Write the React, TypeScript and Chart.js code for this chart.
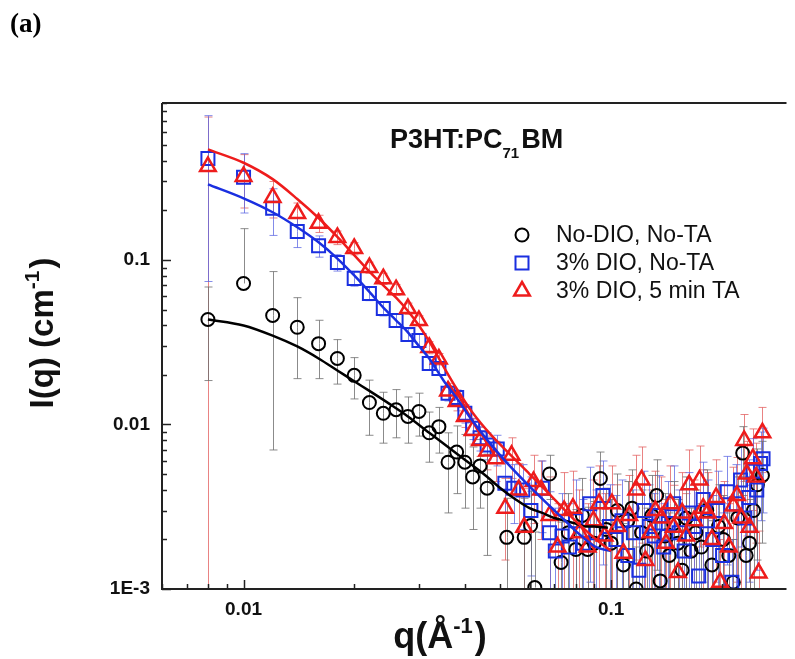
import React, { useEffect, useRef } from 'react';
import { Chart, registerables } from 'chart.js';

Chart.register(...registerables);

// ---------- axis ranges & labels ----------
const xRange = [0.006, 0.3];
const yRange = [0.001, 0.9];
const xTickLabels = [
  { v: 0.01, t: '0.01' },
  { v: 0.1, t: '0.1' },
];
const yTickLabels = [
  { v: 0.001, t: '1E-3' },
  { v: 0.01, t: '0.01' },
  { v: 0.1, t: '0.1' },
];
const seriesNames = ['No-DIO, No-TA', '3% DIO, No-TA', '3% DIO, 5 min TA'];

// ---------- No-DIO, No-TA (black circles) ----------
const qBlack = [0.008, 0.010, 0.012, 0.014, 0.016, 0.018, 0.020, 0.022, 0.024, 0.026, 0.028, 0.030, 0.032, 0.034, 0.036, 0.038, 0.040, 0.042, 0.044, 0.046, 0.052, 0.058, 0.0604, 0.062, 0.068,
  0.0731, 0.0765, 0.0802, 0.0835, 0.0863, 0.0900, 0.0935, 0.0970, 0.1000, 0.1040, 0.1080, 0.1110, 0.1140, 0.1170, 0.1210, 0.1250, 0.1290, 0.1330, 0.1360, 0.1400, 0.1440, 0.1480, 0.1520, 0.1560, 0.1600, 0.1650, 0.1700, 0.1760, 0.1820, 0.1880, 0.1960, 0.2020, 0.2090, 0.2150, 0.2210, 0.2280, 0.2330, 0.2380, 0.2440, 0.2500, 0.2580];
const iBlack = [0.0435, 0.072, 0.046, 0.039, 0.031, 0.0252, 0.0199, 0.0136, 0.0117, 0.0123, 0.0112, 0.0120, 0.0089, 0.0097, 0.0059, 0.0068, 0.0059, 0.0048, 0.0056, 0.0041, 0.00206, 0.00206, 0.00243, 0.00102, 0.0050,
  0.00145, 0.0022, 0.00174, 0.0028, 0.00174, 0.0019, 0.0047, 0.0023, 0.0019, 0.0030, 0.0014, 0.0026, 0.0031, 0.0010, 0.0022, 0.0017, 0.0028, 0.0037, 0.00112, 0.0021, 0.0016, 0.0025, 0.0019, 0.0013, 0.0027, 0.0017, 0.0022, 0.0018, 0.0030, 0.0014, 0.0024, 0.0020, 0.0016, 0.0011, 0.0027, 0.0067, 0.0016, 0.0019, 0.0030, 0.0043, 0.0049];
const eBlack = [0.025, 0.083, 0.039, 0.020, 0.012, 0.0076, 0.0056, 0.005, 0.004, 0.004, 0.0035, 0.0035, 0.003, 0.003, 0.003, 0.003, 0.0028, 0.0025, 0.0025, 0.0025, 0.0015, 0.0015, 0.0015, 0.0012, 0.0015,
  0.0011, 0.0016, 0.0013, 0.0019, 0.0014, 0.0015, 0.0021, 0.0018, 0.0016, 0.0020, 0.0011, 0.0019, 0.0022, 0.0008, 0.0018, 0.0014, 0.0021, 0.0024, 0.0009, 0.0017, 0.0013, 0.0020, 0.0016, 0.0011, 0.0021, 0.0014, 0.0018, 0.0015, 0.0023, 0.0012, 0.0019, 0.0017, 0.0013, 0.0009, 0.0021, 0.0030, 0.0013, 0.0016, 0.0022, 0.0028, 0.0030];

// ---------- 3% DIO, No-TA (blue squares) ----------
const qBlue = [0.008, 0.010, 0.012, 0.014, 0.016, 0.018, 0.020, 0.022, 0.024, 0.026, 0.028, 0.030, 0.032, 0.034, 0.036, 0.038, 0.040, 0.042, 0.044, 0.046, 0.049, 0.0514, 0.0543, 0.0575, 0.0605, 0.0650, 0.0680, 0.0705, 0.0735, 0.0770, 0.0800, 0.0840, 0.0875, 0.0910, 0.0950, 0.0990,
  0.1030, 0.1070, 0.1110, 0.1150, 0.1190, 0.1230, 0.1270, 0.1310, 0.1350, 0.1390, 0.1430, 0.1480, 0.1530, 0.1580, 0.1630, 0.1680, 0.1730, 0.1780, 0.1830, 0.1890, 0.1950, 0.2010, 0.2070, 0.2130, 0.2190, 0.2250, 0.2310, 0.2370, 0.2430, 0.2490, 0.2550, 0.2590];
const iBlue = [0.414, 0.318, 0.206, 0.149, 0.122, 0.0966, 0.0773, 0.0626, 0.0507, 0.0429, 0.0352, 0.0324, 0.0235, 0.0219, 0.0155, 0.0146, 0.0117, 0.0095, 0.0083, 0.0075, 0.0071, 0.0044, 0.0041, 0.0040, 0.0030, 0.0041, 0.0022, 0.0017, 0.0021, 0.0018, 0.0026, 0.0019, 0.0033, 0.0022, 0.0037, 0.0024,
  0.0020, 0.0026, 0.0016, 0.0022, 0.0013, 0.0030, 0.0024, 0.0021, 0.0028, 0.0018, 0.0025, 0.0033, 0.0022, 0.0017, 0.0029, 0.0024, 0.0012, 0.0035, 0.0026, 0.0020, 0.0030, 0.0016, 0.0039, 0.0011, 0.0033, 0.0046, 0.0027, 0.0036, 0.0052, 0.0040, 0.0058, 0.0062];
const eBlue = [0.34, 0.125, 0.065, 0.03, 0.018, 0.011, 0.008, 0.006, 0.005, 0.004, 0.003, 0.003, 0.0022, 0.002, 0.0016, 0.0016, 0.0015, 0.0014, 0.0014, 0.0014, 0.0015, 0.0015, 0.0016, 0.0017, 0.0018, 0.0019, 0.0017, 0.0014, 0.0017, 0.0015, 0.0020, 0.0016, 0.0022, 0.0018, 0.0023, 0.0019,
  0.0017, 0.0020, 0.0013, 0.0018, 0.0011, 0.0022, 0.0019, 0.0017, 0.0021, 0.0015, 0.0020, 0.0023, 0.0018, 0.0014, 0.0022, 0.0019, 0.0010, 0.0024, 0.0020, 0.0017, 0.0022, 0.0013, 0.0025, 0.0009, 0.0024, 0.0028, 0.0021, 0.0025, 0.0030, 0.0027, 0.0032, 0.0033];

// ---------- 3% DIO, 5 min TA (red triangles) ----------
const qRed = [0.008, 0.010, 0.012, 0.014, 0.016, 0.018, 0.020, 0.022, 0.024, 0.026, 0.028, 0.030, 0.032, 0.034, 0.036, 0.038, 0.040, 0.042, 0.044, 0.046, 0.0485, 0.0515, 0.0536, 0.0560, 0.0580, 0.0615, 0.0645, 0.0680, 0.0715, 0.0745, 0.0787, 0.0820, 0.0863, 0.0895, 0.0927, 0.0960,
  0.1005, 0.1040, 0.1080, 0.1120, 0.1170, 0.1210, 0.1240, 0.1280, 0.1320, 0.1370, 0.1410, 0.1450, 0.1480, 0.1520, 0.1560, 0.1600, 0.1630, 0.1680, 0.1740, 0.1780, 0.1830, 0.1880, 0.1930, 0.1980, 0.2030, 0.2090, 0.2150, 0.2200, 0.2260, 0.2300, 0.2340, 0.2380, 0.2430, 0.2480, 0.2520, 0.2580];
const iRed = [0.37, 0.322, 0.24, 0.192, 0.167, 0.137, 0.1175, 0.090, 0.077, 0.066, 0.0507, 0.0428, 0.0294, 0.025, 0.0160, 0.0138, 0.0112, 0.0092, 0.0080, 0.0069, 0.0062, 0.0031, 0.0065, 0.0040, 0.00237, 0.0045, 0.0040, 0.0028, 0.0018, 0.0030, 0.0031, 0.0022, 0.0018, 0.0026, 0.0033, 0.0021,
  0.0033, 0.0024, 0.00165, 0.0028, 0.0040, 0.0046, 0.00149, 0.0022, 0.0030, 0.0027, 0.0019, 0.0033, 0.00237, 0.00126, 0.0029, 0.0021, 0.0043, 0.0026, 0.0046, 0.0031, 0.0029, 0.0020, 0.0036, 0.0011, 0.0025, 0.0018, 0.0032, 0.0037, 0.0027, 0.0080, 0.0050, 0.00237, 0.0062, 0.0048, 0.00125, 0.0089];
const eRed = [0.3695, 0.115, 0.06, 0.03, 0.02, 0.013, 0.01, 0.007, 0.006, 0.005, 0.004, 0.003, 0.0025, 0.002, 0.0018, 0.0017, 0.0016, 0.0016, 0.0016, 0.0016, 0.0017, 0.0016, 0.0018, 0.0018, 0.0017, 0.0020, 0.0020, 0.0020, 0.0015, 0.0021, 0.0021, 0.0018, 0.0015, 0.0020, 0.0023, 0.0017,
  0.0023, 0.0019, 0.0014, 0.0021, 0.0025, 0.0027, 0.0012, 0.0018, 0.0022, 0.0021, 0.0016, 0.0023, 0.0019, 0.0010, 0.0022, 0.0017, 0.0027, 0.0020, 0.0028, 0.0022, 0.0022, 0.0017, 0.0025, 0.0009, 0.0020, 0.0015, 0.0023, 0.0026, 0.0021, 0.0035, 0.0029, 0.0019, 0.0032, 0.0029, 0.0010, 0.0038];

// ---------- model fit curves ----------
const qFitBlack = [0.008, 0.010, 0.012, 0.014, 0.016, 0.018, 0.020, 0.022, 0.025, 0.028, 0.032, 0.036, 0.040, 0.045, 0.050, 0.055, 0.060, 0.065, 0.070, 0.075, 0.080, 0.085, 0.090, 0.095, 0.098];
const iFitBlack = [0.0435, 0.040, 0.0347, 0.0298, 0.0252, 0.0213, 0.0183, 0.0160, 0.0133, 0.0112, 0.0089, 0.0073, 0.0061, 0.0050, 0.0041, 0.0035, 0.0031, 0.0029, 0.0027, 0.0026, 0.0025, 0.0024, 0.0024, 0.00237, 0.00236];
const qFitBlue = [0.008, 0.010, 0.012, 0.014, 0.016, 0.018, 0.020, 0.022, 0.024, 0.026, 0.028, 0.030, 0.032, 0.035, 0.038, 0.042, 0.047, 0.053, 0.060, 0.067, 0.075, 0.083, 0.091, 0.100];
const iFitBlue = [0.288, 0.237, 0.195, 0.158, 0.128, 0.102, 0.0806, 0.064, 0.0514, 0.043, 0.0363, 0.030, 0.0252, 0.0185, 0.0145, 0.0105, 0.0076, 0.0056, 0.0042, 0.0033, 0.0026, 0.0021, 0.0018, 0.0017];
const qFitRed = [0.008, 0.010, 0.012, 0.014, 0.016, 0.018, 0.020, 0.022, 0.024, 0.026, 0.028, 0.030, 0.032, 0.035, 0.038, 0.042, 0.047, 0.053, 0.060, 0.067, 0.075, 0.083, 0.091, 0.100];
const iFitRed = [0.47, 0.39, 0.31, 0.235, 0.18, 0.138, 0.107, 0.085, 0.070, 0.059, 0.049, 0.040, 0.032, 0.0225, 0.0165, 0.0118, 0.0087, 0.0066, 0.0050, 0.0039, 0.0030, 0.0024, 0.0020, 0.0017];

const BLACK = '#000000';
const BLUE = '#1a2fe0';
const RED = '#ee1c1c';
const SANS = '"Liberation Sans", Arial, sans-serif';
const SERIF = '"Liberation Serif", "Times New Roman", serif';

const pts = (q: number[], v: number[]) => q.map((x, i) => ({ x, y: v[i] }));

const errorBarPlugin = {
  id: 'errorBars',
  beforeDatasetsDraw(chart: any) {
    const { ctx, chartArea } = chart;
    const xs = chart.scales.x;
    const ys = chart.scales.y;
    ctx.save();
    ctx.beginPath();
    ctx.rect(chartArea.left, chartArea.top, chartArea.right - chartArea.left, chartArea.bottom - chartArea.top);
    ctx.clip();
    chart.data.datasets.forEach((ds: any) => {
      if (!ds.errors) return;
      ctx.strokeStyle = ds.errorColor;
      ctx.lineWidth = 1;
      ds.data.forEach((p: any, i: number) => {
        const e = ds.errors[i];
        const x = Math.round(xs.getPixelForValue(p.x)) + 0.5;
        const yc = ys.getPixelForValue(p.y);
        const yt = ys.getPixelForValue(p.y + e);
        ctx.beginPath();
        ctx.moveTo(x, yc);
        ctx.lineTo(x, yt);
        ctx.moveTo(x - 4, yt);
        ctx.lineTo(x + 4, yt);
        if (p.y - e > 0) {
          const yb = ys.getPixelForValue(p.y - e);
          ctx.moveTo(x, yc);
          ctx.lineTo(x, yb);
          ctx.moveTo(x - 4, yb);
          ctx.lineTo(x + 4, yb);
        }
        ctx.stroke();
      });
    });
    ctx.restore();
  },
};

type Part = { t: string; sup?: boolean; sub?: boolean };

function drawParts(ctx: CanvasRenderingContext2D, parts: Part[], x: number, y: number, size: number, subSize: number, bold: boolean, family: string, subDrop: number) {
  let cx = x;
  parts.forEach((p) => {
    const s = p.sup || p.sub ? subSize : size;
    ctx.font = `${bold ? 'bold ' : ''}${s}px ${family}`;
    const dy = p.sup ? -size * 0.42 : p.sub ? subDrop : 0;
    ctx.fillText(p.t, cx, y + dy);
    cx += ctx.measureText(p.t).width + (p.sup || p.sub ? 2 : 0);
  });
  return cx - x;
}

function measureParts(ctx: CanvasRenderingContext2D, parts: Part[], size: number, subSize: number, bold: boolean, family: string) {
  let w = 0;
  parts.forEach((p) => {
    const s = p.sup || p.sub ? subSize : size;
    ctx.font = `${bold ? 'bold ' : ''}${s}px ${family}`;
    w += ctx.measureText(p.t).width + (p.sup || p.sub ? 2 : 0);
  });
  return w;
}

const decorPlugin = {
  id: 'decor',
  afterDraw(chart: any) {
    const { ctx, chartArea } = chart;
    const xs = chart.scales.x;
    const ys = chart.scales.y;
    const L = chartArea.left, R = chartArea.right, T = chartArea.top, B = chartArea.bottom;
    ctx.save();
    ctx.strokeStyle = '#222';
    ctx.fillStyle = '#111';
    // frame
    ctx.lineWidth = 2;
    ctx.beginPath();
    ctx.moveTo(L, T);
    ctx.lineTo(L, B);
    ctx.lineTo(R, B);
    ctx.moveTo(L, T);
    ctx.lineTo(R, T);
    ctx.stroke();
    // inward ticks
    ctx.lineWidth = 1.5;
    for (let e = -4; e <= 0; e++) {
      for (let m = 1; m <= 9; m++) {
        const v = m * Math.pow(10, e);
        const len = m === 1 ? 9 : 5;
        if (v >= xRange[0] && v <= xRange[1]) {
          const px = Math.round(xs.getPixelForValue(v)) + 0.5;
          ctx.beginPath();
          ctx.moveTo(px, B);
          ctx.lineTo(px, B - len);
          ctx.stroke();
        }
        if (v >= yRange[0] && v <= yRange[1]) {
          const py = Math.round(ys.getPixelForValue(v)) + 0.5;
          ctx.beginPath();
          ctx.moveTo(L, py);
          ctx.lineTo(L + len, py);
          ctx.stroke();
        }
      }
    }
    // tick labels
    ctx.font = `bold 19px ${SANS}`;
    ctx.textBaseline = 'middle';
    ctx.textAlign = 'center';
    xTickLabels.forEach((t) => ctx.fillText(t.t, xs.getPixelForValue(t.v), B + 21));
    ctx.textAlign = 'right';
    yTickLabels.forEach((t) => ctx.fillText(t.t, L - 12, ys.getPixelForValue(t.v)));

    // x title
    ctx.textAlign = 'left';
    ctx.textBaseline = 'alphabetic';
    const xt: Part[] = [{ t: 'q(Å' }, { t: '-1', sup: true }, { t: ')' }];
    const xw = measureParts(ctx, xt, 36, 22, true, SANS);
    drawParts(ctx, xt, 440 - xw / 2, 648, 36, 22, true, SANS, 0);

    // y title (rotated)
    const yt: Part[] = [{ t: 'I(q) (cm' }, { t: '-1', sup: true }, { t: ')' }];
    const yw = measureParts(ctx, yt, 33, 21, true, SANS);
    ctx.save();
    ctx.translate(53, 333);
    ctx.rotate(-Math.PI / 2);
    drawParts(ctx, yt, -yw / 2, 0, 33, 21, true, SANS, 0);
    ctx.restore();

    // panel label
    ctx.font = `bold 27px ${SERIF}`;
    ctx.fillStyle = '#000';
    ctx.fillText('(a)', 10, 32);

    // sample title
    ctx.fillStyle = '#111';
    drawParts(ctx, [{ t: 'P3HT:PC' }, { t: '71', sub: true }, { t: 'BM' }], 390, 148, 27, 15, true, SANS, 10);

    // legend
    const rows = [
      { name: seriesNames[0], style: 'circle', color: BLACK, y: 235 },
      { name: seriesNames[1], style: 'rect', color: BLUE, y: 263 },
      { name: seriesNames[2], style: 'triangle', color: RED, y: 291 },
    ];
    ctx.font = `23px ${SANS}`;
    ctx.textBaseline = 'middle';
    rows.forEach((r) => {
      ctx.strokeStyle = r.color;
      ctx.lineWidth = r.style === 'triangle' ? 2.5 : 2;
      ctx.beginPath();
      const cx = 522, cy = r.y;
      if (r.style === 'circle') {
        ctx.arc(cx, cy, 6.5, 0, Math.PI * 2);
      } else if (r.style === 'rect') {
        ctx.rect(cx - 6.5, cy - 6.5, 13, 13);
      } else {
        ctx.moveTo(cx, cy - 9);
        ctx.lineTo(cx + 7.8, cy + 4.5);
        ctx.lineTo(cx - 7.8, cy + 4.5);
        ctx.closePath();
      }
      ctx.stroke();
      ctx.fillStyle = '#111';
      ctx.fillText(r.name, 556, r.y + 1);
    });
    ctx.restore();
  },
};

export default function App() {
  const ref = useRef<HTMLCanvasElement | null>(null);
  useEffect(() => {
    if (!ref.current) return;
    const chart = new Chart(ref.current, {
      type: 'scatter',
      data: {
        datasets: [
          { label: 'fitRed', data: pts(qFitRed, iFitRed), showLine: true, pointRadius: 0, borderColor: RED, borderWidth: 2.5, cubicInterpolationMode: 'monotone', order: 0 } as any,
          { label: 'fitBlue', data: pts(qFitBlue, iFitBlue), showLine: true, pointRadius: 0, borderColor: BLUE, borderWidth: 2.5, cubicInterpolationMode: 'monotone', order: 1 } as any,
          { label: 'fitBlack', data: pts(qFitBlack, iFitBlack), showLine: true, pointRadius: 0, borderColor: BLACK, borderWidth: 2.5, cubicInterpolationMode: 'monotone', order: 2 } as any,
          { label: seriesNames[2], data: pts(qRed, iRed), errors: eRed, errorColor: 'rgba(225,90,90,0.75)', pointStyle: 'triangle', pointRadius: 9, pointBorderWidth: 2.5, borderColor: RED, backgroundColor: 'rgba(0,0,0,0)', order: 3 } as any,
          { label: seriesNames[1], data: pts(qBlue, iBlue), errors: eBlue, errorColor: 'rgba(90,100,225,0.75)', pointStyle: 'rect', pointRadius: 9.2, pointBorderWidth: 2, borderColor: BLUE, backgroundColor: 'rgba(0,0,0,0)', order: 4 } as any,
          { label: seriesNames[0], data: pts(qBlack, iBlack), errors: eBlack, errorColor: 'rgba(110,110,110,0.8)', pointStyle: 'circle', pointRadius: 6.5, pointBorderWidth: 2, borderColor: BLACK, backgroundColor: 'rgba(0,0,0,0)', order: 5 } as any,
        ],
      },
      options: {
        responsive: false,
        animation: false,
        devicePixelRatio: 1,
        layout: { padding: { left: 162, top: 103, right: 0, bottom: 70 } },
        scales: {
          x: { type: 'logarithmic', min: xRange[0], max: xRange[1], display: false },
          y: { type: 'logarithmic', min: yRange[0], max: yRange[1], display: false },
        },
        plugins: { legend: { display: false }, tooltip: { enabled: false } },
        elements: { point: { hoverRadius: 0 } },
      } as any,
      plugins: [errorBarPlugin, decorPlugin],
    });
    return () => chart.destroy();
  }, []);
  return (
    <div style={{ position: 'absolute', left: 0, top: 0, width: 795, height: 659, overflow: 'hidden', background: '#fff' }}>
      <canvas ref={ref} width={798} height={659} style={{ width: 798, height: 659, display: 'block' }} />
    </div>
  );
}
